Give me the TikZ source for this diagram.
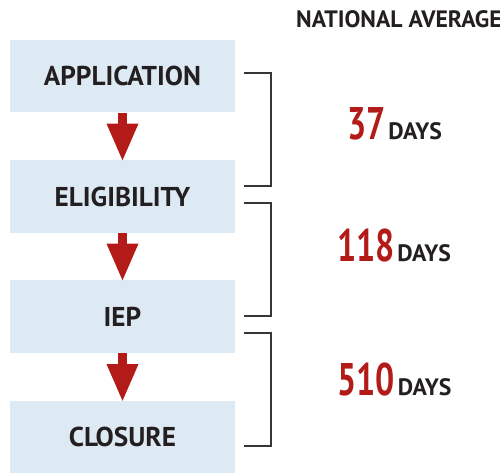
\documentclass[tikz,border=0pt]{standalone}
\usepackage{fontspec}
\setmainfont{PT Sans}
\newfontfamily\numfont{PT Sans}[FakeStretch=0.74]
\usetikzlibrary{arrows.meta}
\definecolor{stagefill}{HTML}{DDEAF4}
\definecolor{flowred}{HTML}{B31B18}
\definecolor{inkdark}{HTML}{231F20}
\newcommand{\daycount}[1]{{\color{flowred}\numfont\bfseries\fontsize{26}{26}\selectfont #1}\hspace{0.12em}DAYS}
\begin{document}
\begin{tikzpicture}[x=0.02cm, y=-0.02cm,
    stage/.style={fill=stagefill, minimum width=4.5cm, minimum height=1.46cm, inner sep=0pt,
      text=inkdark, font=\fontsize{15.5}{16}\selectfont\bfseries},
    flow/.style={draw=flowred, line width=0.18cm, -{Triangle[width=0.58cm, length=0.76cm]}, shorten >=-0.04cm},
    span/.style={draw=inkdark!90, line width=0.65pt},
    tally/.style={anchor=base, text=inkdark, font=\fontsize{13.5}{14}\selectfont\bfseries}]
  \useasboundingbox (0,0) rectangle (500,473);
  % stages
  \node [stage] (app)  at (122.5,76)  {APPLICATION};
  \node [stage] (elig) at (122.5,196.5) {ELIGIBILITY};
  \node [stage] (iep)  at (122.5,316.5) {IEP};
  \node [stage] (clos) at (122.5,437)  {CLOSURE};
  \draw [flow] (app) -- (elig);
  \draw [flow] (elig) -- (iep);
  \draw [flow] (iep) -- (clos);
  % brackets
  \draw [span] (244,73) -| (271,186) -- (244,186);
  \draw [span] (244,203) -| (271,316) -- (244,316);
  \draw [span] (244,333) -| (271,446) -- (244,446);
  % durations
  \node [tally] (head) at (399,28) {NATIONAL AVERAGE};
  \node [tally] (d1) at (394.5,139) {\daycount{37}};
  \node [tally] (d2) at (394,261)   {\daycount{118}};
  \node [tally] (d3) at (394.5,395) {\daycount{510}};
\end{tikzpicture}
\end{document}
